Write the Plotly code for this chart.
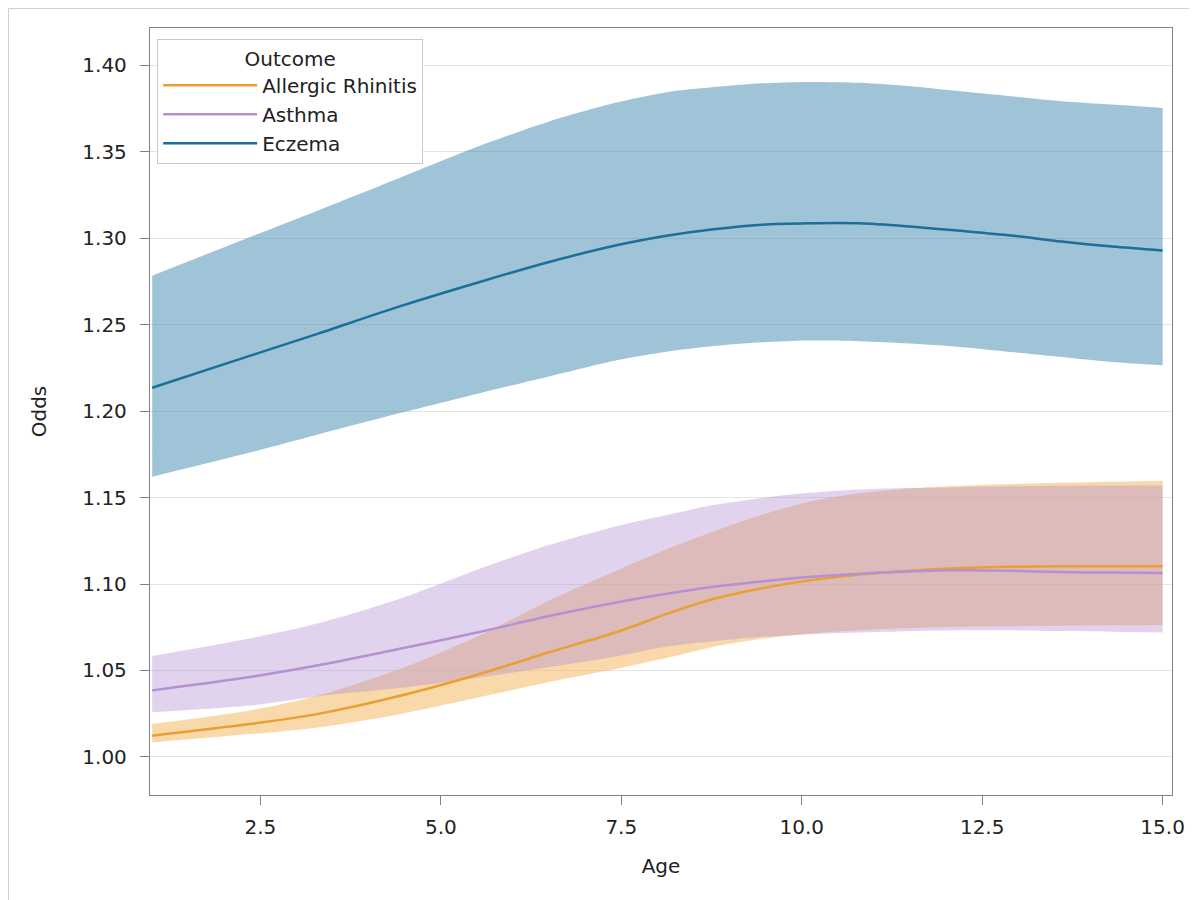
import plotly.graph_objects as go

ages = [1.0, 2.35, 3.3, 4.45, 5.55, 6.5, 7.45, 8.15, 8.75, 9.45, 10.1, 10.8, 11.5, 12.2, 12.9, 13.6, 14.3, 15.0]

eczema_mean = [1.2135, 1.2319, 1.2448, 1.2608, 1.2748, 1.2862, 1.2960, 1.3015, 1.3050, 1.3078, 1.3086, 1.3086, 1.3067, 1.3042, 1.3015, 1.2980, 1.2951, 1.2928]
eczema_upper = [1.2783, 1.3005, 1.3160, 1.3352, 1.3535, 1.3675, 1.3785, 1.3845, 1.3872, 1.3895, 1.3903, 1.3898, 1.3878, 1.3849, 1.3820, 1.3791, 1.3772, 1.3753]
eczema_lower = [1.1620, 1.1760, 1.1865, 1.1990, 1.2105, 1.2200, 1.2295, 1.2345, 1.2375, 1.2398, 1.2408, 1.2404, 1.2391, 1.2371, 1.2342, 1.2313, 1.2284, 1.2265]

asthma_mean = [1.0385, 1.0462, 1.0530, 1.0627, 1.0724, 1.0815, 1.0895, 1.0945, 1.0983, 1.1015, 1.1040, 1.1060, 1.1073, 1.1080, 1.1077, 1.1069, 1.1066, 1.1063]
asthma_upper = [1.0584, 1.0685, 1.0773, 1.0918, 1.1090, 1.1225, 1.1335, 1.1400, 1.1455, 1.1498, 1.1527, 1.1547, 1.1555, 1.1560, 1.1565, 1.1568, 1.1570, 1.1570]
asthma_lower = [1.0258, 1.0297, 1.0351, 1.0400, 1.0460, 1.0520, 1.0583, 1.0640, 1.0668, 1.0695, 1.0710, 1.0720, 1.0727, 1.0732, 1.0732, 1.0728, 1.0724, 1.0720]

rhinitis_mean = [1.0123, 1.0190, 1.0249, 1.0355, 1.0481, 1.0605, 1.0724, 1.0830, 1.0910, 1.0975, 1.1020, 1.1055, 1.1077, 1.1092, 1.1100, 1.1102, 1.1102, 1.1102]
rhinitis_upper = [1.0190, 1.0268, 1.0355, 1.0511, 1.0705, 1.0905, 1.1080, 1.1205, 1.1300, 1.1400, 1.1475, 1.1525, 1.1552, 1.1568, 1.1578, 1.1585, 1.1591, 1.1597]
rhinitis_lower = [1.0084, 1.0132, 1.0171, 1.0249, 1.0346, 1.0433, 1.0511, 1.0575, 1.0635, 1.0683, 1.0712, 1.0732, 1.0745, 1.0753, 1.0756, 1.0759, 1.0761, 1.0763]

x_ticks = [2.5, 5.0, 7.5, 10.0, 12.5, 15.0]
x_tick_labels = ["2.5", "5.0", "7.5", "10.0", "12.5", "15.0"]
y_ticks = [1.00, 1.05, 1.10, 1.15, 1.20, 1.25, 1.30, 1.35, 1.40]
y_tick_labels = ["1.00", "1.05", "1.10", "1.15", "1.20", "1.25", "1.30", "1.35", "1.40"]

series = [
    ("Allergic Rhinitis", rhinitis_mean, rhinitis_lower, rhinitis_upper, "#e8a035", "rgba(244,182,95,0.53)"),
    ("Asthma", asthma_mean, asthma_lower, asthma_upper, "#b491d3", "rgba(180,145,210,0.40)"),
    ("Eczema", eczema_mean, eczema_lower, eczema_upper, "#1b6f98", "rgba(60,135,176,0.49)"),
]

fig = go.Figure()

# confidence bands
for name, mean, lo, up, lc, fc in series:
    fig.add_trace(go.Scatter(x=ages, y=lo, mode="lines", line=dict(width=0, shape="spline", smoothing=0.8),
                             showlegend=False, hoverinfo="skip"))
    fig.add_trace(go.Scatter(x=ages, y=up, mode="lines", line=dict(width=0, shape="spline", smoothing=0.8),
                             fill="tonexty", fillcolor=fc, showlegend=False, hoverinfo="skip"))

# mean lines
for name, mean, lo, up, lc, fc in series:
    fig.add_trace(go.Scatter(x=ages, y=mean, mode="lines", name=name,
                             line=dict(color=lc, width=2.5, shape="spline", smoothing=0.8)))

font_family = "DejaVu Sans, Liberation Sans, Arial, sans-serif"

L, T, W, H = 142, 20, 1022, 767  # plot area in figure pixels

fig.update_layout(
    width=1197, height=900,
    margin=dict(l=L, r=1197 - L - W, t=T, b=900 - T - H),
    paper_bgcolor="white", plot_bgcolor="white",
    font=dict(family=font_family, size=20, color="#222"),
    showlegend=True,
    legend=dict(
        x=0.007, y=0.986, xanchor="left", yanchor="top",
        traceorder="normal",
        bgcolor="white", bordercolor="#c8c8c8", borderwidth=1,
        title=dict(text="Outcome", side="top center", font=dict(size=20, family=font_family)),
        font=dict(size=20, family=font_family),
        itemwidth=94, tracegroupgap=0,
    ),
    xaxis=dict(
        title=dict(text="Age", font=dict(size=20), standoff=20),
        range=[0.97, 15.13], tickvals=x_ticks, ticktext=x_tick_labels,
        showgrid=False, zeroline=False,
        showline=True, linecolor="#7f7f7f", linewidth=1.3, mirror=True,
        ticks="outside", ticklen=9, tickcolor="#7f7f7f", tickfont=dict(size=20),
        ticklabelstandoff=5,
    ),
    yaxis=dict(
        title=dict(text="Odds", font=dict(size=20), standoff=30),
        range=[0.978, 1.4215], tickvals=y_ticks, ticktext=y_tick_labels,
        showgrid=True, gridcolor="#e4e4e4", gridwidth=1, zeroline=False,
        showline=True, linecolor="#7f7f7f", linewidth=1.3, mirror=True,
        ticks="outside", ticklen=9, tickcolor="#7f7f7f", tickfont=dict(size=20),
        ticklabelstandoff=9,
    ),
)

# faint outer frame (top and left edges of the graph image)
fx = (0.5 - L) / W
fy = (T + H - 0.5) / H
fig.add_shape(type="line", xref="paper", yref="paper", x0=fx, x1=(1197 - L) / W, y0=fy, y1=fy,
              line=dict(color="#d0d0d0", width=1))
fig.add_shape(type="line", xref="paper", yref="paper", x0=fx, x1=fx, y0=fy, y1=-(900 - T - H) / H,
              line=dict(color="#d0d0d0", width=1))

fig.write_html("out.html")
